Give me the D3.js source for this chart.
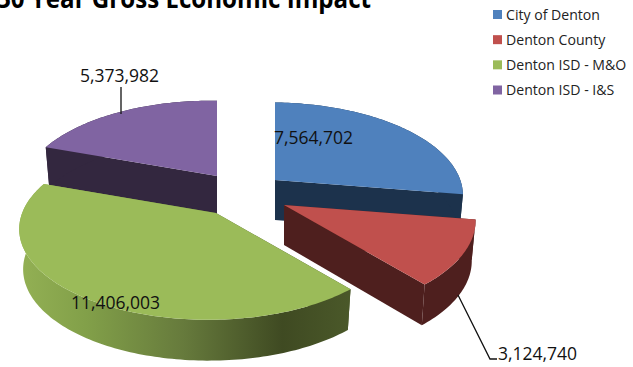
<!DOCTYPE html>
<html>
<head>
<meta charset="utf-8">
<script src="https://cdn.jsdelivr.net/npm/d3@7/dist/d3.min.js"></script>
<style>
  html, body { margin: 0; background: #fff; }
  text { font-family: "Open Sans", sans-serif; fill: #111; }
</style>
</head>
<body>
<svg id="chart" width="633" height="367"></svg>
<script>
const categories = ["City of Denton", "Denton County", "Denton ISD - M&O", "Denton ISD - I&S"];
const values = [7564702, 3124740, 11406003, 5373982];
const topColors = ["#4f81bd", "#c0504d", "#9bbb59", "#8064a2"];
const wallColors = ["#1c324c", "#4e1f1e", "url(#greenSide)", "#33273f"];

// Where each exploded wedge's point sits on the page
const apexX = [275, 284, 216, 217];
const apexY = [180, 205, 213, 176];
const wedgeScale = [1.02, 1.04, 0.995, 0.99];
const labelX = [274, 498, 71, 80];
const labelY = [144, 360, 309, 82];

// Tilted-disc projection shared by all wedges
const radiusX = 188, radiusY = 89, perspective = 0.17, lean = 0.035;
const depth = 40, depthGrow = 3, floorShrink = 0.98;

const svg = d3.select("#chart");
const fmt = d3.format(",");

const defs = svg.append("defs");
const grad = defs.append("linearGradient").attr("id", "greenSide")
  .attr("gradientUnits", "userSpaceOnUse")
  .attr("x1", 20).attr("x2", 348).attr("y1", 0).attr("y2", 0);
[[0, "#93b054"], [0.2, "#82a049"], [0.5, "#667a3c"], [0.8, "#3f4a22"], [1, "#4a5829"]]
  .forEach(([o, c]) => grad.append("stop").attr("offset", o).attr("stop-color", c));

svg.append("text").text("30 Year Gross Economic Impact")
  .attr("x", -3).attr("y", 8)
  .attr("font-size", 26).attr("font-weight", 700)
  .attr("textLength", 374).attr("lengthAdjust", "spacingAndGlyphs")
  .style("fill", "#000");

const arcs = d3.pie().sort(null).value(d => d)(values);
const line = d3.line();

function project(i, theta, lower) {
  const s = Math.sin(theta), c = Math.cos(theta);
  const w = wedgeScale[i] / (1 + perspective * c + lean * s);
  const shrink = lower ? floorShrink : 1;
  return [
    apexX[i] + radiusX * s * w * shrink,
    apexY[i] - radiusY * c * w * shrink + (lower ? depth - depthGrow * c : 0)
  ];
}
function rim(i, a, lower) {
  const n = Math.ceil((a.endAngle - a.startAngle) / 0.02);
  return d3.range(n + 1).map(k =>
    project(i, a.startAngle + (a.endAngle - a.startAngle) * k / n, lower));
}
const apexTop = i => [apexX[i], apexY[i]];
const apexLow = i => [apexX[i], apexY[i] + depth];

// Back wedges first, so the nearer ones overlap them
[3, 0, 2, 1].forEach(i => {
  const a = arcs[i];
  const g = svg.append("g");
  const wall = wallColors[i];
  const up = rim(i, a, false), low = rim(i, a, true);
  const edge = (p, q) => g.append("path")
    .attr("d", line([apexTop(i), p, q, apexLow(i)]) + "Z").attr("fill", wall);
  edge(up[0], low[0]);
  edge(up[up.length - 1], low[low.length - 1]);
  g.append("path").attr("d", line(up.concat(low.slice().reverse())) + "Z").attr("fill", wall);
  g.append("path").attr("d", line([apexTop(i)].concat(up)) + "Z").attr("fill", topColors[i]);
});

// Leader lines for the two labels set away from their wedges
const leader = d3.line();
svg.append("path").attr("d", leader([[121, 87], [121, 114]]))
  .attr("fill", "none").attr("stroke", "#111").attr("stroke-width", 1.3);
svg.append("path").attr("d", leader([[458, 295], [490, 359], [497, 359]]))
  .attr("fill", "none").attr("stroke", "#111").attr("stroke-width", 1.3);

values.forEach((v, i) => {
  svg.append("text").text(fmt(v))
    .attr("x", labelX[i]).attr("y", labelY[i]).attr("font-size", 17.5);
});

// Legend
const legendY = d3.scalePoint().domain(categories).range([14.5, 90]);
const legend = svg.append("g").selectAll("g").data(categories).join("g")
  .attr("transform", d => `translate(493,${legendY(d)})`);
legend.append("rect").attr("x", 0).attr("y", -4.5).attr("width", 9).attr("height", 9)
  .attr("fill", (d, i) => topColors[i]);
legend.append("text").text(d => d).attr("x", 13).attr("y", 5).attr("font-size", 14.1)
  .style("fill", "#222");
</script>
</body>
</html>
